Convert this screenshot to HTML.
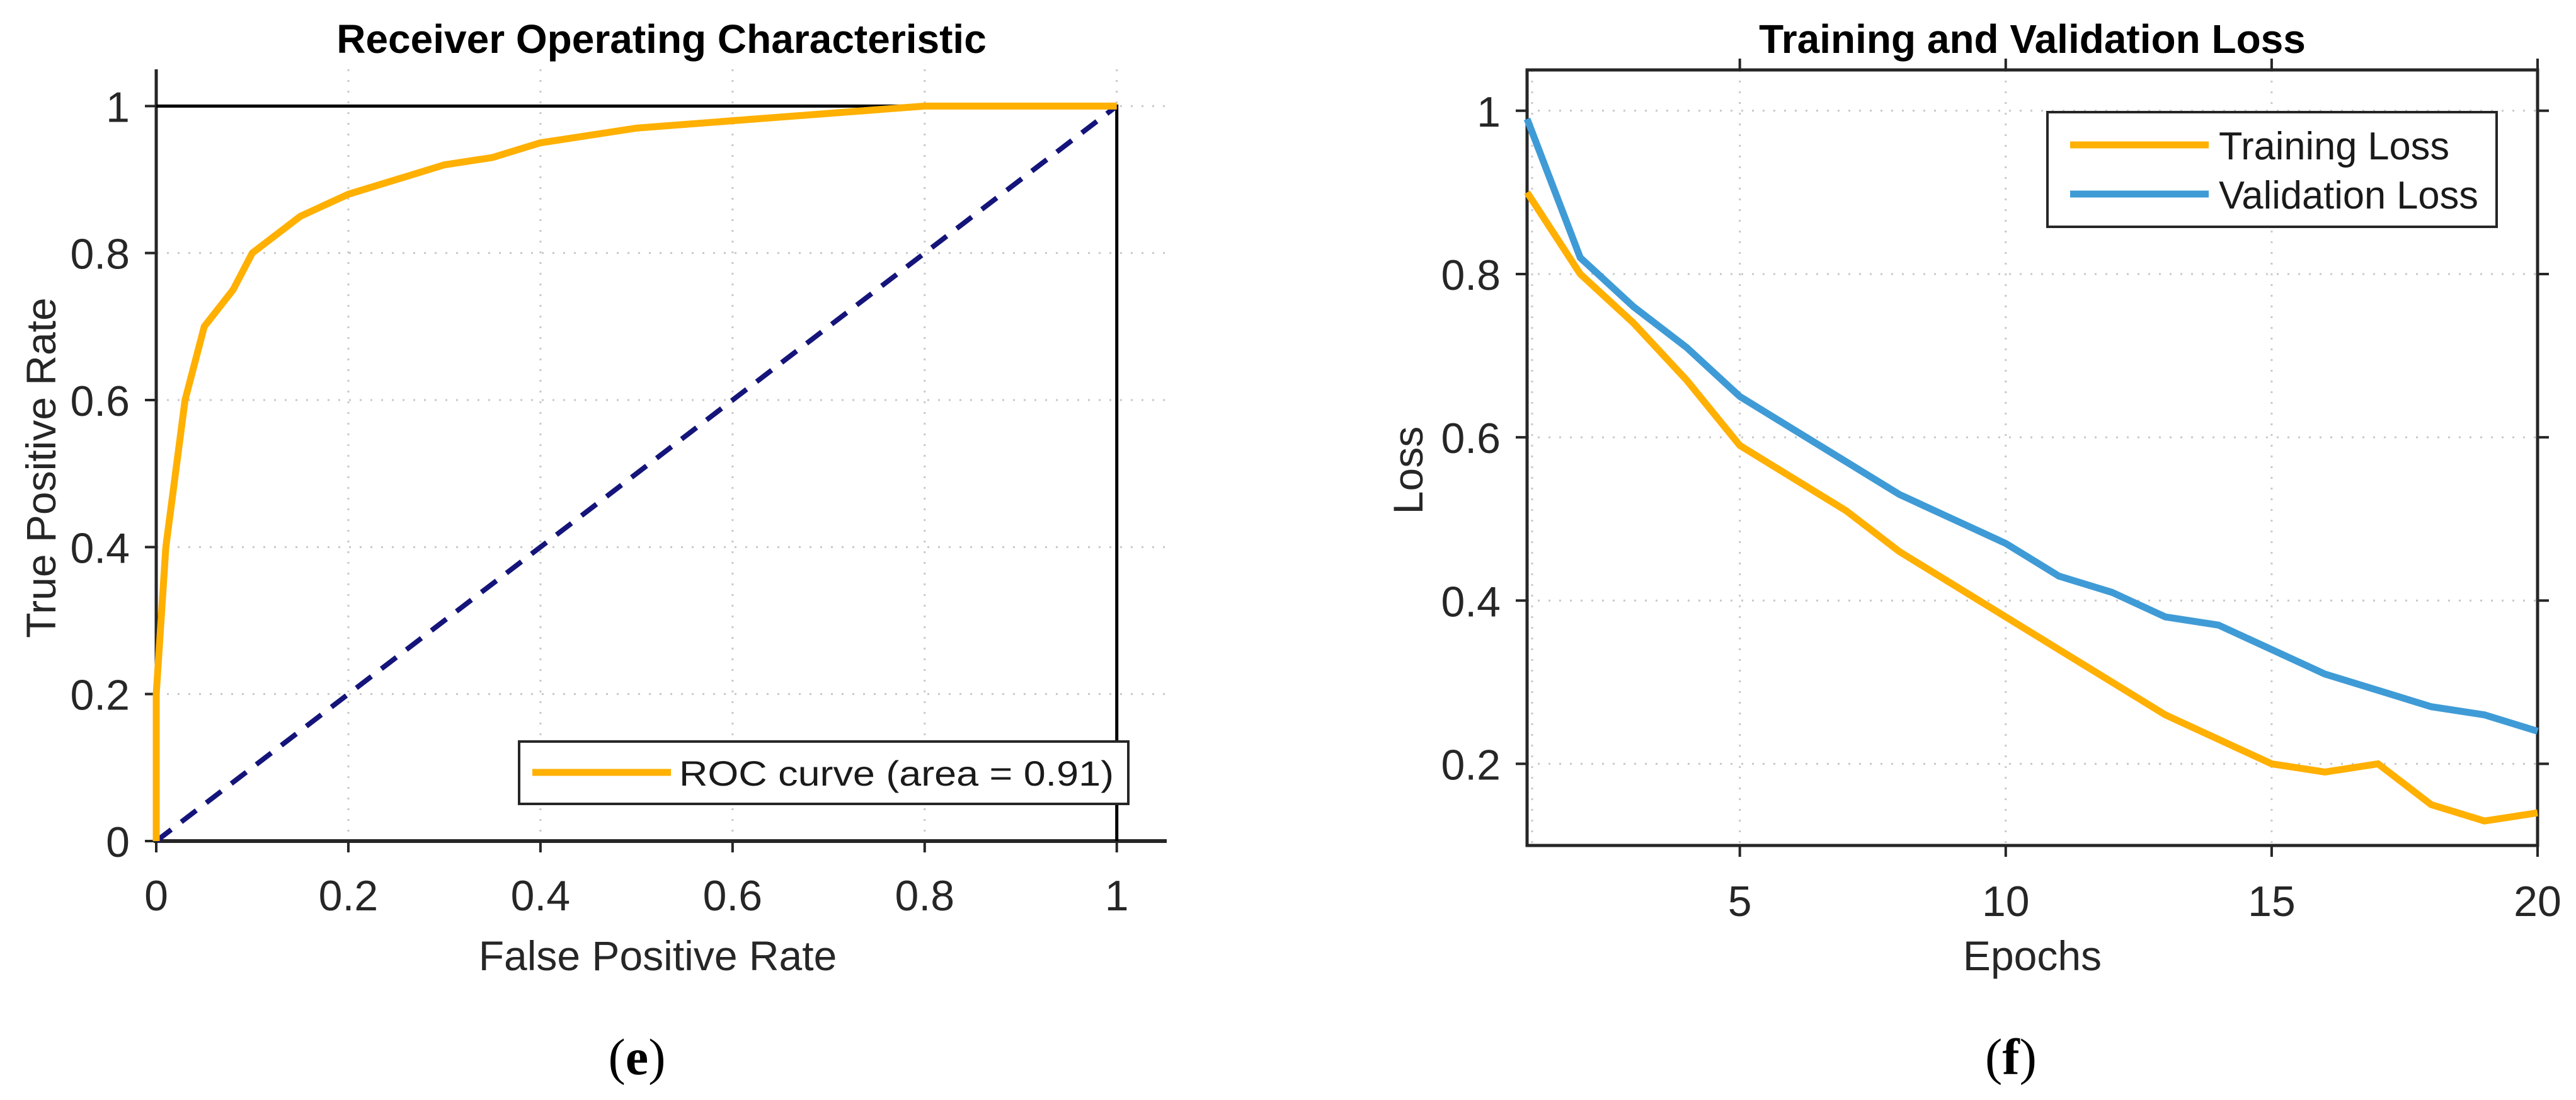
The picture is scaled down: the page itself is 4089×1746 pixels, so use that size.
<!DOCTYPE html>
<html><head><meta charset="utf-8"><style>
html,body{margin:0;padding:0;background:#fff;}
svg{display:block;font-family:"Liberation Sans",sans-serif;}
</style></head><body>
<svg id="fig" width="4089" height="1746" viewBox="0 0 4089 1746" xmlns="http://www.w3.org/2000/svg">
<g id="roc"></g>
<g id="loss"></g>
</svg>
<script>
// ROC data
const rocFpr = [0,0,0.01,0.03,0.05,0.08,0.1,0.15,0.2,0.3,0.35,0.4,0.5,0.6,0.7,0.8,1];
const rocTpr = [0,0.2,0.4,0.6,0.7,0.75,0.8,0.85,0.88,0.92,0.93,0.95,0.97,0.98,0.99,1,1];
const rocTicks = [0,0.2,0.4,0.6,0.8,1];
const rocTickLabels = ["0","0.2","0.4","0.6","0.8","1"];
// Loss data
const epochs = [1,2,3,4,5,6,7,8,9,10,11,12,13,14,15,16,17,18,19,20];
const trainLoss = [0.90,0.80,0.74,0.67,0.59,0.55,0.51,0.46,0.42,0.38,0.34,0.30,0.26,0.23,0.20,0.19,0.20,0.15,0.13,0.14];
const valLoss = [0.99,0.82,0.76,0.71,0.65,0.61,0.57,0.53,0.50,0.47,0.43,0.41,0.38,0.37,0.34,0.31,0.29,0.27,0.26,0.24];
const lossXTicks = [5,10,15,20];
const lossYTicks = [0.2,0.4,0.6,0.8,1];
const lossYTickLabels = ["0.2","0.4","0.6","0.8","1"];

const NS = "http://www.w3.org/2000/svg";
function mk(parent, tag, attrs, text){
  const e = document.createElementNS(NS, tag);
  for (const k in attrs) e.setAttribute(k, attrs[k]);
  if (text !== undefined) e.textContent = text;
  parent.appendChild(e);
  return e;
}
const ORANGE = "#FFB000", BLUE = "#3F9BD6", NAVY = "#14147A";
const TICK_FS = 68, LABEL_FS = 66;

// ---------- ROC ----------
(function(){
  const g = document.getElementById("roc");
  const L = 248, R = 1852, T = 110, B = 1335;
  const xs = v => L + v / 1.052 * (R - L);
  const ys = v => B - v / 1.05 * (B - T);
  rocTicks.forEach((t,i) => {
    if (t > 0) {
      const gv = mk(g, "line", {x1: xs(t), x2: xs(t), y1: T, y2: B, stroke: "#c8c8c8", "stroke-width": 3, "stroke-dasharray": "3 14"});
      
      
      const gh = mk(g, "line", {x1: L, x2: R, y1: ys(t), y2: ys(t), stroke: "#c8c8c8", "stroke-width": 3, "stroke-dasharray": "3 14"});
      
      
    }
  });
  const ax = mk(g, "line", {x1: L-4, x2: R, y1: B, y2: B, stroke: "#262626", "stroke-width": 6});
  
  
  const ay = mk(g, "line", {x1: L, x2: L, y1: T, y2: B, stroke: "#262626", "stroke-width": 5});
  
  
  rocTicks.forEach((t,i) => {
    const tx = mk(g, "line", {x1: xs(t), x2: xs(t), y1: B, y2: B+18, stroke: "#262626", "stroke-width": 4});
    
    
    const lx = mk(g, "text", {x: xs(t), y: B+110, "font-size": TICK_FS, "text-anchor": "middle", fill: "#262626"}, rocTickLabels[i]);
    
    
    const ty = mk(g, "line", {x1: L-18, x2: L, y1: ys(t), y2: ys(t), stroke: "#262626", "stroke-width": 4});
    
    
    const ly = mk(g, "text", {x: L-42, y: ys(t)+25, "font-size": TICK_FS, "text-anchor": "end", fill: "#262626"}, rocTickLabels[i]);
    
    
  });
  const pc = mk(g, "polyline", {points: `${xs(0)},${ys(1)} ${xs(1)},${ys(1)} ${xs(1)},${ys(0)}`, fill: "none", stroke: "#000", "stroke-width": 5});
  
  
  const dg = mk(g, "line", {x1: xs(0), y1: ys(0), x2: xs(1), y2: ys(1), stroke: NAVY, "stroke-width": 8, "stroke-dasharray": "30 20"});
  
  
  const pts = rocFpr.map((f,i) => `${xs(f)},${ys(rocTpr[i])}`).join(" ");
  const rc = mk(g, "polyline", {points: pts, fill: "none", stroke: ORANGE, "stroke-width": 11, "stroke-linejoin": "miter"});
  
  
  const lg = mk(g, "g", {});
  
  
  mk(lg, "rect", {x: 824, y: 1177, width: 967, height: 99, fill: "#fff", stroke: "#262626", "stroke-width": 4});
  mk(lg, "line", {x1: 845, x2: 1065, y1: 1226, y2: 1226, stroke: ORANGE, "stroke-width": 11});
  const lt = mk(lg, "text", {x: 1078, y: 1247, "font-size": 56, fill: "#1a1a1a", textLength: 690, lengthAdjust: "spacingAndGlyphs"}, "ROC curve (area = 0.91)");
  
  
  const ti = mk(g, "text", {x: 1050, y: 84, "font-size": 64, "font-weight": "bold", "text-anchor": "middle", fill: "#000"}, "Receiver Operating Characteristic");
  
  
  const xl = mk(g, "text", {x: 1044, y: 1540, "font-size": LABEL_FS, "text-anchor": "middle", fill: "#262626"}, "False Positive Rate");
  
  
  const yl = mk(g, "text", {x: 0, y: 0, "font-size": LABEL_FS, "text-anchor": "middle", fill: "#262626", transform: `translate(88,${(T+B)/2+20}) rotate(-90)`}, "True Positive Rate");
  
  
  const cap = mk(g, "text", {x: 1011, y: 1705, "font-size": 82, "font-family": "Liberation Serif, serif", "text-anchor": "middle", fill: "#000"});
  mk(cap, "tspan", {}, "(");
  mk(cap, "tspan", {"font-weight": "bold"}, "e");
  mk(cap, "tspan", {}, ")");
  
  
})();

// ---------- LOSS ----------
(function(){
  const g = document.getElementById("loss");
  const L = 2424, R = 4028, T = 111, B = 1342;
  const xs = v => L + (v - 1) / 19 * (R - L);
  const ys = v => B - (v - 0.1) / 0.95 * (B - T);
  lossXTicks.forEach(t => {
    if (t < 20) {
      const gv = mk(g, "line", {x1: xs(t), x2: xs(t), y1: T, y2: B, stroke: "#c8c8c8", "stroke-width": 3, "stroke-dasharray": "3 14"});
      
      
    }
  });
  const gv0 = mk(g, "line", {x1: L+8, x2: L+8, y1: T, y2: B, stroke: "#c8c8c8", "stroke-width": 3, "stroke-dasharray": "3 14"});
  
  
  lossYTicks.forEach(t => {
    const gh = mk(g, "line", {x1: L, x2: R, y1: ys(t), y2: ys(t), stroke: "#c8c8c8", "stroke-width": 3, "stroke-dasharray": "3 14"});
    
    
  });
  const box = mk(g, "rect", {x: L, y: T, width: R-L, height: B-T, fill: "none", stroke: "#262626", "stroke-width": 5});
  
  
  lossXTicks.forEach(t => {
    const tb = mk(g, "line", {x1: xs(t), x2: xs(t), y1: B, y2: B+18, stroke: "#262626", "stroke-width": 4});
    
    
    const tt = mk(g, "line", {x1: xs(t), x2: xs(t), y1: T-18, y2: T, stroke: "#262626", "stroke-width": 4});
    
    
    const lx = mk(g, "text", {x: xs(t), y: B+112, "font-size": TICK_FS, "text-anchor": "middle", fill: "#262626"}, String(t));
    
    
  });
  lossYTicks.forEach((t,i) => {
    const tl = mk(g, "line", {x1: L-18, x2: L, y1: ys(t), y2: ys(t), stroke: "#262626", "stroke-width": 4});
    
    
    const tr = mk(g, "line", {x1: R, x2: R+18, y1: ys(t), y2: ys(t), stroke: "#262626", "stroke-width": 4});
    
    
    const ly = mk(g, "text", {x: L-42, y: ys(t)+25, "font-size": TICK_FS, "text-anchor": "end", fill: "#262626"}, lossYTickLabels[i]);
    
    
  });
  const tp = mk(g, "polyline", {points: epochs.map((e,i) => `${xs(e)},${ys(trainLoss[i])}`).join(" "), fill: "none", stroke: ORANGE, "stroke-width": 11});
  
  
  const vp = mk(g, "polyline", {points: epochs.map((e,i) => `${xs(e)},${ys(valLoss[i])}`).join(" "), fill: "none", stroke: BLUE, "stroke-width": 11});
  
  
  const lg = mk(g, "g", {});
  
  
  mk(lg, "rect", {x: 3250, y: 178, width: 713, height: 182, fill: "#fff", stroke: "#262626", "stroke-width": 4});
  mk(lg, "line", {x1: 3286, x2: 3506, y1: 230, y2: 230, stroke: ORANGE, "stroke-width": 11});
  mk(lg, "line", {x1: 3286, x2: 3506, y1: 308, y2: 308, stroke: BLUE, "stroke-width": 11});
  const t1 = mk(lg, "text", {x: 3522, y: 253, "font-size": 62, fill: "#1a1a1a", textLength: 366, lengthAdjust: "spacingAndGlyphs"}, "Training Loss");
  
  
  const t2 = mk(lg, "text", {x: 3522, y: 331, "font-size": 62, fill: "#1a1a1a", textLength: 412, lengthAdjust: "spacingAndGlyphs"}, "Validation Loss");
  
  
  const ti = mk(g, "text", {x: 3226, y: 84, "font-size": 64, "font-weight": "bold", "text-anchor": "middle", fill: "#000"}, "Training and Validation Loss");
  
  
  const xl = mk(g, "text", {x: 3226, y: 1540, "font-size": LABEL_FS, "text-anchor": "middle", fill: "#262626"}, "Epochs");
  
  
  const yl = mk(g, "text", {x: 0, y: 0, "font-size": LABEL_FS, "text-anchor": "middle", fill: "#262626", transform: `translate(2258,${(T+B)/2+20}) rotate(-90)`}, "Loss");
  
  
  const cap = mk(g, "text", {x: 3192, y: 1705, "font-size": 82, "font-family": "Liberation Serif, serif", "text-anchor": "middle", fill: "#000"});
  mk(cap, "tspan", {}, "(");
  mk(cap, "tspan", {"font-weight": "bold"}, "f");
  mk(cap, "tspan", {}, ")");
  
  
})();
</script>
</body></html>
